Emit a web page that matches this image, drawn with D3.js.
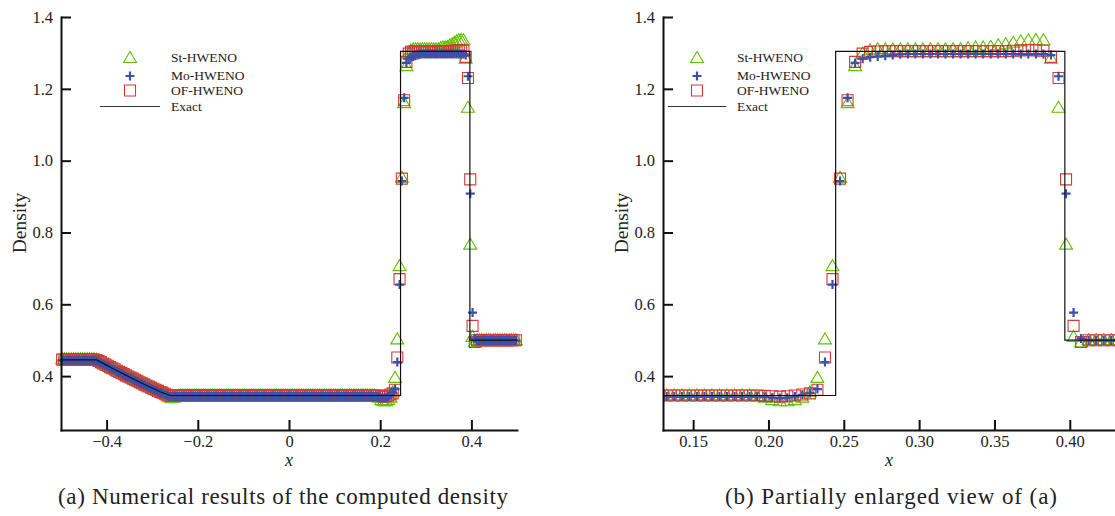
<!DOCTYPE html>
<html><head><meta charset="utf-8">
<script src="https://cdn.jsdelivr.net/npm/d3@7"></script>
<style>
body{margin:0;background:#fff}
svg text{font-family:"Liberation Serif","Times New Roman",serif !important;fill:#222}
</style>
</head><body>
<svg id="c" width="1115" height="516"></svg>
<script>
// ---------- DATA ----------
const xCells = [
-0.4975,-0.4925,-0.4875,-0.4825,-0.4775,-0.4725,-0.4675,-0.4625,-0.4575,-0.4525,
-0.4475,-0.4425,-0.4375,-0.4325,-0.4275,-0.4225,-0.4175,-0.4125,-0.4075,-0.4025,
-0.3975,-0.3925,-0.3875,-0.3825,-0.3775,-0.3725,-0.3675,-0.3625,-0.3575,-0.3525,
-0.3475,-0.3425,-0.3375,-0.3325,-0.3275,-0.3225,-0.3175,-0.3125,-0.3075,-0.3025,
-0.2975,-0.2925,-0.2875,-0.2825,-0.2775,-0.2725,-0.2675,-0.2625,-0.2575,-0.2525,
-0.2475,-0.2425,-0.2375,-0.2325,-0.2275,-0.2225,-0.2175,-0.2125,-0.2075,-0.2025,
-0.1975,-0.1925,-0.1875,-0.1825,-0.1775,-0.1725,-0.1675,-0.1625,-0.1575,-0.1525,
-0.1475,-0.1425,-0.1375,-0.1325,-0.1275,-0.1225,-0.1175,-0.1125,-0.1075,-0.1025,
-0.0975,-0.0925,-0.0875,-0.0825,-0.0775,-0.0725,-0.0675,-0.0625,-0.0575,-0.0525,
-0.0475,-0.0425,-0.0375,-0.0325,-0.0275,-0.0225,-0.0175,-0.0125,-0.0075,-0.0025,
0.0025,0.0075,0.0125,0.0175,0.0225,0.0275,0.0325,0.0375,0.0425,0.0475,
0.0525,0.0575,0.0625,0.0675,0.0725,0.0775,0.0825,0.0875,0.0925,0.0975,
0.1025,0.1075,0.1125,0.1175,0.1225,0.1275,0.1325,0.1375,0.1425,0.1475,
0.1525,0.1575,0.1625,0.1675,0.1725,0.1775,0.1825,0.1875,0.1925,0.1975,
0.2025,0.2075,0.2125,0.2175,0.2225,0.2275,0.2325,0.2375,0.2425,0.2475,
0.2525,0.2575,0.2625,0.2675,0.2725,0.2775,0.2825,0.2875,0.2925,0.2975,
0.3025,0.3075,0.3125,0.3175,0.3225,0.3275,0.3325,0.3375,0.3425,0.3475,
0.3525,0.3575,0.3625,0.3675,0.3725,0.3775,0.3825,0.3875,0.3925,0.3975,
0.4025,0.4075,0.4125,0.4175,0.4225,0.4275,0.4325,0.4375,0.4425,0.4475,
0.4525,0.4575,0.4625,0.4675,0.4725,0.4775,0.4825,0.4875,0.4925,0.4975
];

const stHWENO = [
0.450,0.450,0.450,0.450,0.450,0.450,0.450,0.450,0.450,0.450,
0.450,0.450,0.450,0.450,0.450,0.449,0.446,0.442,0.438,0.435,
0.432,0.428,0.425,0.422,0.418,0.415,0.412,0.409,0.405,0.402,
0.399,0.396,0.393,0.390,0.386,0.383,0.380,0.377,0.374,0.371,
0.368,0.365,0.362,0.359,0.356,0.353,0.349,0.344,0.341,0.343,
0.346,0.348,0.349,0.349,0.349,0.349,0.349,0.349,0.349,0.349,
0.349,0.349,0.349,0.349,0.349,0.349,0.349,0.349,0.349,0.349,
0.349,0.349,0.349,0.349,0.349,0.349,0.349,0.349,0.349,0.349,
0.349,0.349,0.349,0.349,0.349,0.349,0.349,0.349,0.349,0.349,
0.349,0.349,0.349,0.349,0.349,0.349,0.349,0.349,0.349,0.349,
0.349,0.349,0.349,0.349,0.349,0.349,0.349,0.349,0.349,0.349,
0.349,0.349,0.349,0.349,0.349,0.349,0.349,0.349,0.349,0.349,
0.349,0.349,0.349,0.349,0.349,0.349,0.349,0.349,0.349,0.349,
0.349,0.349,0.349,0.349,0.349,0.349,0.349,0.349,0.347,0.343,
0.336,0.333,0.333,0.336,0.343,0.358,0.398,0.505,0.709,0.955,
1.163,1.266,1.301,1.310,1.313,1.313,1.313,1.313,1.313,1.313,
1.313,1.313,1.313,1.313,1.313,1.313,1.316,1.318,1.318,1.320,
1.324,1.327,1.331,1.335,1.338,1.339,1.338,1.287,1.150,0.769,
0.512,0.497,0.503,0.503,0.503,0.503,0.503,0.503,0.503,0.503,
0.503,0.503,0.503,0.503,0.503,0.503,0.503,0.503,0.503,0.503
];

const moHWENO = [
0.444,0.444,0.444,0.444,0.444,0.444,0.444,0.444,0.444,0.444,
0.444,0.444,0.444,0.444,0.444,0.443,0.440,0.437,0.433,0.430,
0.427,0.423,0.420,0.417,0.413,0.410,0.407,0.404,0.400,0.397,
0.394,0.391,0.388,0.385,0.381,0.378,0.375,0.372,0.369,0.366,
0.363,0.360,0.357,0.354,0.352,0.349,0.346,0.344,0.343,0.343,
0.343,0.343,0.343,0.343,0.343,0.343,0.343,0.343,0.343,0.343,
0.343,0.343,0.343,0.343,0.343,0.343,0.343,0.343,0.343,0.343,
0.343,0.343,0.343,0.343,0.343,0.343,0.343,0.343,0.343,0.343,
0.343,0.343,0.343,0.343,0.343,0.343,0.343,0.343,0.343,0.343,
0.343,0.343,0.343,0.343,0.343,0.343,0.343,0.343,0.343,0.343,
0.343,0.343,0.343,0.343,0.343,0.343,0.343,0.343,0.343,0.343,
0.343,0.343,0.343,0.343,0.343,0.343,0.343,0.343,0.343,0.343,
0.343,0.343,0.343,0.343,0.343,0.343,0.343,0.343,0.343,0.343,
0.343,0.343,0.343,0.343,0.343,0.343,0.343,0.343,0.343,0.342,
0.340,0.339,0.340,0.343,0.348,0.353,0.364,0.439,0.655,0.943,
1.175,1.272,1.284,1.288,1.290,1.292,1.294,1.296,1.297,1.297,
1.297,1.297,1.297,1.297,1.297,1.297,1.297,1.297,1.297,1.297,
1.297,1.297,1.297,1.297,1.297,1.297,1.297,1.294,1.235,0.908,
0.577,0.505,0.499,0.499,0.499,0.499,0.499,0.499,0.499,0.499,
0.499,0.499,0.499,0.499,0.499,0.499,0.499,0.499,0.499,0.499
];

const ofHWENO = [
0.446,0.446,0.446,0.446,0.446,0.446,0.446,0.446,0.446,0.446,
0.446,0.446,0.446,0.446,0.446,0.445,0.442,0.439,0.435,0.432,
0.429,0.425,0.422,0.419,0.415,0.412,0.409,0.406,0.402,0.399,
0.396,0.393,0.390,0.387,0.383,0.380,0.377,0.374,0.371,0.368,
0.365,0.362,0.359,0.356,0.354,0.351,0.348,0.346,0.345,0.345,
0.346,0.346,0.346,0.346,0.346,0.346,0.346,0.346,0.346,0.346,
0.346,0.346,0.346,0.346,0.346,0.346,0.346,0.346,0.346,0.346,
0.346,0.346,0.346,0.346,0.346,0.346,0.346,0.346,0.346,0.346,
0.346,0.346,0.346,0.346,0.346,0.346,0.346,0.346,0.346,0.346,
0.346,0.346,0.346,0.346,0.346,0.346,0.346,0.346,0.346,0.346,
0.346,0.346,0.346,0.346,0.346,0.346,0.346,0.346,0.346,0.346,
0.346,0.346,0.346,0.346,0.346,0.346,0.346,0.346,0.346,0.346,
0.346,0.346,0.346,0.346,0.346,0.346,0.346,0.346,0.346,0.346,
0.346,0.346,0.346,0.346,0.346,0.346,0.346,0.346,0.346,0.345,
0.344,0.343,0.344,0.346,0.349,0.352,0.362,0.452,0.670,0.950,
1.168,1.275,1.298,1.303,1.304,1.305,1.305,1.305,1.305,1.305,
1.305,1.305,1.305,1.305,1.305,1.305,1.305,1.305,1.305,1.305,
1.305,1.305,1.306,1.307,1.308,1.307,1.306,1.289,1.230,0.948,
0.540,0.495,0.500,0.500,0.500,0.500,0.500,0.500,0.500,0.500,
0.500,0.500,0.500,0.500,0.500,0.500,0.500,0.500,0.500,0.500
];

const exactX = [-0.5,-0.4215,-0.4025,-0.3825,-0.3625,-0.3425,-0.3225,-0.3025,-0.2825,-0.2607,0.2446,0.2446,0.3967,0.3967,0.5];
const exactY = [0.445,0.445,0.4320,0.4186,0.4055,0.3927,0.3803,0.3682,0.3564,0.3461,0.3461,1.3044,1.3044,0.5,0.5];

const yTickValues = [0.4,0.6,0.8,1.0,1.2,1.4];
const yTickLabels = ["0.4","0.6","0.8","1.0","1.2","1.4"];
const xTickValuesA = [-0.4,-0.2,0,0.2,0.4];
const xTickLabelsA = ["\u22120.4","\u22120.2","0","0.2","0.4"];
const xTickValuesB = [0.15,0.20,0.25,0.30,0.35,0.40];
const xTickLabelsB = ["0.15","0.20","0.25","0.30","0.35","0.40"];
const legendLabels = ["St-HWENO","Mo-HWENO","OF-HWENO","Exact"];
const captions = ["(a) Numerical results of the computed density","(b) Partially enlarged view of (a)"];
const yLabel = "Density";
const xLabel = "x";

// ---------- DRAW ----------
const SERIF = '"Liberation Serif","Times New Roman",serif';
const svg = d3.select("#c");
const colors = {st:"#5fc000", mo:"#3b50a8", of:"#d23a3a"};
const triPath = "M0,-5.5L6.5,5.5L-6.5,5.5Z";
const sqPath = "M-5.5,-5.5H5.5V5.5H-5.5Z";
const plusPath = "M-4.5,0H4.5M0,-4.5V4.5";

const cells = xCells.map((x,i)=>({x, st:stHWENO[i], mo:moHWENO[i], of:ofHWENO[i]}));
const exact = exactX.map((x,i)=>({x, y:exactY[i]}));

function txt(sel, size){
  return sel.style("font-family",SERIF).style("font-size",size+"px").style("fill","#222");
}

function panel(p){
  const g = svg.append("g");
  const x = d3.scaleLinear().domain(p.xDomain).range(p.xRange);
  const y = d3.scaleLinear().domain([0.25,1.4]).range([430,17]);
  const x0 = p.xRange[0];

  let plot = g.append("g");
  if (p.clip){
    svg.append("defs").append("clipPath").attr("id",p.id+"clip")
      .append("rect").attr("x",x0).attr("y",0).attr("width",p.xRange[1]-x0+10).attr("height",431);
    plot.attr("clip-path",`url(#${p.id}clip)`);
  }
  plot.append("g").selectAll("path").data(cells).join("path")
    .attr("d",triPath).attr("transform",d=>`translate(${x(d.x)},${y(d.st)})`)
    .attr("fill","none").attr("stroke",colors.st).attr("stroke-width",1.1);
  plot.append("g").selectAll("path").data(cells).join("path")
    .attr("d",sqPath).attr("transform",d=>`translate(${x(d.x)},${y(d.of)})`)
    .attr("fill","none").attr("stroke",colors.of).attr("stroke-width",1.1);
  plot.append("g").selectAll("path").data(cells).join("path")
    .attr("d",plusPath).attr("transform",d=>`translate(${x(d.x)},${y(d.mo)})`)
    .attr("fill","none").attr("stroke",colors.mo).attr("stroke-width",2.2);
  plot.append("path").datum(exact)
    .attr("d",d3.line().x(d=>x(d.x)).y(d=>y(d.y)))
    .attr("fill","none").attr("stroke","#111").attr("stroke-width",1.2);

  const ya = g.append("g").attr("transform",`translate(${x0},0)`)
    .call(d3.axisLeft(y).tickValues(yTickValues).tickFormat((d,i)=>yTickLabels[i]).tickSizeInner(-10).tickSizeOuter(0).tickPadding(8));
  const xa = g.append("g").attr("transform",`translate(0,430)`)
    .call(d3.axisBottom(x).tickValues(p.ticks).tickFormat((d,i)=>p.tickLabels[i]).tickSizeInner(-10).tickSizeOuter(0).tickPadding(5));
  [ya,xa].forEach(a=>{
    a.attr("font-family",null).attr("font-size",null);
    a.select(".domain").attr("stroke","#111").attr("stroke-width",2).attr("stroke-linecap","square");
    a.selectAll(".tick line").attr("stroke","#111").attr("stroke-width",2);
    txt(a.selectAll(".tick text"),16.5);
  });

  txt(g.append("text").attr("transform",`translate(${x0-42},223) rotate(-90)`)
    .attr("text-anchor","middle").attr("dy","0.35em").text(yLabel),19.5);
  txt(g.append("text").attr("x",(p.xRange[0]+Math.min(p.xRange[1],1115))/2).attr("y",466)
    .attr("text-anchor","middle").style("font-style","italic").text(xLabel),18);

  const L = g.append("g");
  const lx = p.legendMarkerX, tx = p.legendTextX;
  const rows = [57,76,90.5,106.5];
  L.append("path").attr("d",triPath).attr("transform",`translate(${lx},${rows[0]})`).attr("fill","none").attr("stroke",colors.st).attr("stroke-width",1.1);
  L.append("path").attr("d",plusPath).attr("transform",`translate(${lx},${rows[1]})`).attr("fill","none").attr("stroke",colors.mo).attr("stroke-width",2.2);
  L.append("path").attr("d",sqPath).attr("transform",`translate(${lx},${rows[2]})`).attr("fill","none").attr("stroke",colors.of).attr("stroke-width",1.1);
  L.append("line").attr("x1",p.legendLine[0]).attr("x2",p.legendLine[1]).attr("y1",rows[3]).attr("y2",rows[3]).attr("stroke","#333").attr("stroke-width",1.2);
  txt(L.selectAll("text").data(legendLabels).join("text")
    .attr("x",tx).attr("y",(d,i)=>rows[i]+(i===1?-1:0)).attr("dy","0.35em").text(d=>d),13.5);

  txt(g.append("text").attr("x",p.captionX).attr("y",504).attr("text-anchor","middle")
    .attr("textLength",p.captionW).attr("lengthAdjust","spacing").text(p.caption),23);
}

panel({id:"a", xDomain:[-0.5,0.5], xRange:[61,517], ticks:xTickValuesA, tickLabels:xTickLabelsA,
  legendMarkerX:130, legendTextX:171, legendLine:[100,160], caption:captions[0], captionX:283, captionW:450, clip:false});
panel({id:"b", xDomain:[0.13,0.43], xRange:[663,1115], ticks:xTickValuesB, tickLabels:xTickLabelsB,
  legendMarkerX:697, legendTextX:737, legendLine:[668,726], caption:captions[1], captionX:891, captionW:332, clip:true});
</script>
</body></html>
